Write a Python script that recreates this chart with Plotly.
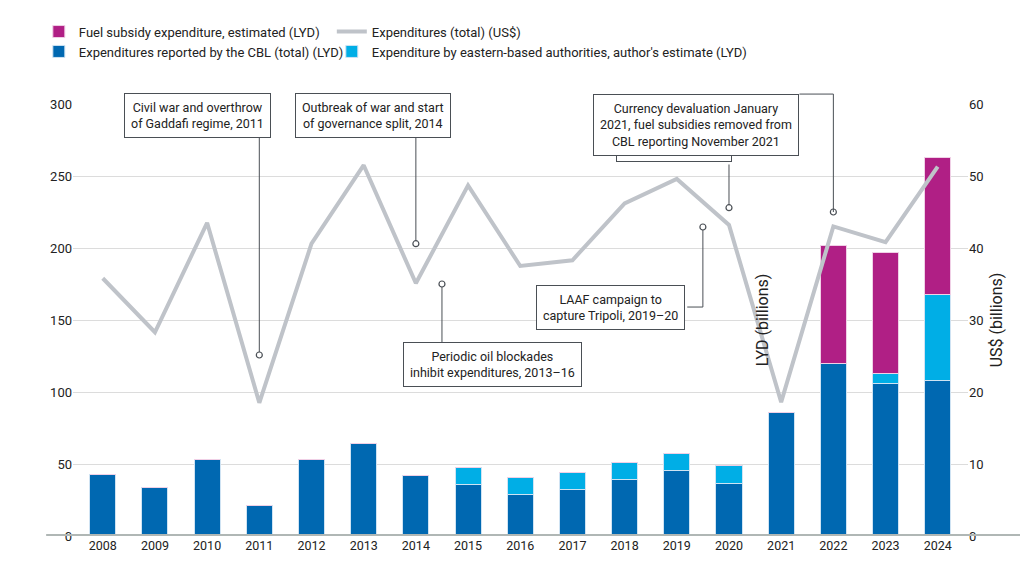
import plotly.graph_objects as go

years = list(range(2008, 2025))
cbl = [43, 34, 53, 21.5, 53, 64, 42, 35.7, 28.7, 32.2, 38.9, 45.6, 36.6, 86, 120, 106, 108]
eastern = [0, 0, 0, 0, 0, 0, 0, 11.7, 11.7, 11.7, 12.0, 11.7, 12.2, 0, 0, 7, 60]
fuel = [0, 0, 0, 0, 0, 0, 0, 0, 0, 0, 0, 0, 0, 0, 82, 84, 95]
usd = [35.8, 28.3, 43.5, 18.5, 40.6, 51.5, 35.1, 48.7, 37.5, 38.3, 46.2, 49.6, 43.2, 18.6, 43.0, 40.8, 51.3]

notes = [
    ("Civil war and overthrow<br>of Gaddafi regime, 2011", 2009.82, 292),
    ("Outbreak of war and start<br>of governance split, 2014", 2013.17, 292),
    ("Periodic oil blockades<br>inhibit expenditures, 2013–16", 2015.47, 119),
    ("LAAF campaign to<br>capture Tripoli, 2019–20", 2017.73, 159),
    ("Oil blockade, 2020", 2018.94, 270),
]
leaders = [
    [(2011, 279), (2011, 125.7)],
    [(2014, 279), (2014, 203)],
    [(2014.5, 133), (2014.5, 175)],
    [(2019.2, 159), (2019.5, 159), (2019.5, 214.6)],
    [(2020, 258), (2020, 228)],
]
top_note = ("Currency devaluation January<br>2021, fuel subsidies removed from<br>CBL reporting November 2021", 2019.36, 1.023)
top_target = (2022, 225)

fig = go.Figure()
fig.add_bar(x=years, y=cbl, name="Expenditures reported by the CBL (total) (LYD)",
            marker=dict(color="#0068b1", line=dict(color="#cfe3f3", width=1)), width=0.5, legend="legend")
fig.add_bar(x=years, y=eastern, name="Expenditure by eastern-based authorities, author's estimate (LYD)",
            marker=dict(color="#00aee6", line=dict(color="#cfe3f3", width=1)), width=0.5, legend="legend2")
fig.add_bar(x=years, y=fuel, name="Fuel subsidy expenditure, estimated (LYD)",
            marker=dict(color="#b01f85", line=dict(color="#f0d0e6", width=1)), width=0.5, legend="legend")
fig.add_scatter(x=years, y=usd, name="Expenditures (total) (US$)", yaxis="y2", mode="lines",
                line=dict(color="#bfc3c9", width=4), legend="legend2")

for pts in leaders:
    fig.add_scatter(x=[p[0] for p in pts], y=[p[1] for p in pts], mode="lines",
                    line=dict(color="#4a4f55", width=1), showlegend=False, hoverinfo="skip")

# top leader drawn in paper y so it is not clipped
fig.add_shape(type="line", xref="x", yref="paper", x0=2021.35, x1=top_target[0], y0=top_note[2], y1=top_note[2],
              line=dict(color="#4a4f55", width=1))
fig.add_shape(type="line", xref="x", yref="paper", x0=top_target[0], x1=top_target[0], y0=top_note[2],
              y1=top_target[1] / 300, line=dict(color="#4a4f55", width=1))

mx = [pts[-1][0] for pts in leaders] + [top_target[0]]
my = [pts[-1][1] for pts in leaders] + [top_target[1]]
fig.add_scatter(x=mx, y=my, mode="markers",
                marker=dict(symbol="circle", size=6, color="white", line=dict(color="#4a4f55", width=1.2)),
                showlegend=False, hoverinfo="skip")

for text, x, y in notes:
    fig.add_annotation(x=x, y=y, text=text, showarrow=False, bgcolor="white",
                       bordercolor="#4a4f55", borderwidth=1, borderpad=6,
                       font=dict(size=12.5, color="#222"))
fig.add_annotation(x=top_note[1], y=top_note[2], yref="paper", text=top_note[0], showarrow=False,
                   bgcolor="white", bordercolor="#4a4f55", borderwidth=1, borderpad=6,
                   font=dict(size=12.5, color="#222"))

fig.add_shape(type="line", xref="paper", yref="y", x0=-0.03, x1=1.07, y0=0, y1=0,
              line=dict(color="#b0b7b5", width=4))

leg = dict(orientation="v", yref="container", xref="container", y=0.985, yanchor="top",
           xanchor="left", font=dict(size=13), tracegroupgap=0, bgcolor="rgba(0,0,0,0)")
fig.update_layout(
    width=1028, height=573, barmode="stack", plot_bgcolor="white", paper_bgcolor="white",
    margin=dict(l=65, r=68, t=96, b=45, autoexpand=False),
    font=dict(family="Roboto, Noto Sans, sans-serif", size=13, color="#222"),
    legend=dict(leg, x=0.03),
    legend2=dict(leg, x=0.315),
    xaxis=dict(range=[2007.43, 2024.58], tickmode="array", tickvals=years, showgrid=False,
               ticks="", zeroline=False, tickfont=dict(size=12.5)),
    yaxis=dict(title=dict(text="LYD (billions)", standoff=8), range=[0, 300], tickvals=[0, 50, 100, 150, 200, 250, 300],
               gridcolor="#dcdcdc", zeroline=False, ticks=""),
    yaxis2=dict(title=dict(text="US$ (billions)", standoff=8), overlaying="y", side="right", range=[0, 60],
                tickvals=[0, 10, 20, 30, 40, 50, 60], showgrid=False, zeroline=False, ticks=""),
)
fig.write_html("out.html")
